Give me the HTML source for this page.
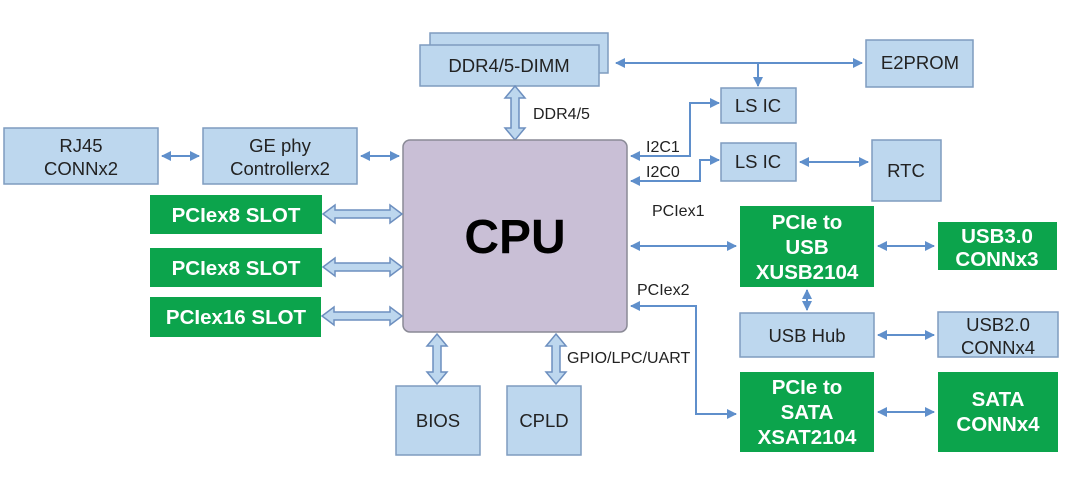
<!DOCTYPE html>
<html><head><meta charset="utf-8"><style>
html,body{margin:0;padding:0;background:#fff;}
svg{display:block;font-family:"Liberation Sans",Arial,sans-serif;}
.b{fill:#bdd7ee;stroke:#7f9cbf;stroke-width:1.5;}
.g{fill:#0ca44c;}
.t{font-size:18.5px;fill:#222;text-anchor:middle;}
.w{font-size:20.5px;fill:#fff;font-weight:bold;text-anchor:middle;}
.l{font-size:16px;fill:#222;}
.ln{stroke:#5f8fcb;stroke-width:2;fill:none;}
.ha{fill:#bdd7ee;stroke:#6d8fbf;stroke-width:1.5;}
</style></head><body>
<svg width="1080" height="489" viewBox="0 0 1080 489">
<defs>
<marker id="a" viewBox="0 0 10 10" refX="9" refY="5" markerWidth="5" markerHeight="5" orient="auto-start-reverse"><path d="M0,0L10,5L0,10z" fill="#5f8fcb"/></marker>
</defs>
<rect class="b" x="430" y="33" width="178" height="40"/>
<rect class="b" x="420" y="45" width="179" height="41"/>
<text class="t" x="509" y="72">DDR4/5-DIMM</text>
<rect class="b" x="866" y="40" width="107" height="47"/>
<text class="t" x="920" y="69">E2PROM</text>
<line class="ln" x1="616" y1="63" x2="862" y2="63" marker-start="url(#a)" marker-end="url(#a)"/>
<line class="ln" x1="758" y1="63" x2="758" y2="86" marker-end="url(#a)"/>
<rect class="b" x="721" y="88" width="75" height="35"/>
<text class="t" x="758" y="112">LS IC</text>
<rect class="b" x="721" y="143" width="75" height="38"/>
<text class="t" x="758" y="168">LS IC</text>
<rect class="b" x="872" y="140" width="69" height="61"/>
<text class="t" x="906" y="177">RTC</text>
<line class="ln" x1="800" y1="162" x2="868" y2="162" marker-start="url(#a)" marker-end="url(#a)"/>
<polyline class="ln" points="719,103 690,103 690,156 631,156" marker-start="url(#a)" marker-end="url(#a)"/>
<polyline class="ln" points="719,160 700,160 700,181 631,181" marker-start="url(#a)" marker-end="url(#a)"/>
<text class="l" x="646" y="152">I2C1</text>
<text class="l" x="646" y="177">I2C0</text>
<path class="ha" d="M515,86 L525,98 L519,98 L519,128 L525,128 L515,140 L505,128 L511,128 L511,98 L505,98 Z"/>
<text class="l" x="533" y="119">DDR4/5</text>
<rect x="403" y="140" width="224" height="192" rx="7" fill="#c9bfd6" stroke="#8a8a96" stroke-width="1.5"/>
<text x="515" y="253" font-size="48" font-weight="bold" text-anchor="middle" fill="#000">CPU</text>
<rect class="b" x="4" y="128" width="154" height="56"/>
<text class="t" x="81" y="152">RJ45</text><text class="t" x="81" y="175">CONNx2</text>
<rect class="b" x="203" y="128" width="154" height="56"/>
<text class="t" x="280" y="152">GE phy</text><text class="t" x="280" y="175">Controllerx2</text>
<line class="ln" x1="162" y1="156" x2="199" y2="156" marker-start="url(#a)" marker-end="url(#a)"/>
<line class="ln" x1="361" y1="156" x2="399" y2="156" marker-start="url(#a)" marker-end="url(#a)"/>
<rect class="g" x="150" y="195" width="172" height="39"/><text class="w" x="236" y="222">PCIex8 SLOT</text>
<rect class="g" x="150" y="248" width="172" height="39"/><text class="w" x="236" y="275">PCIex8 SLOT</text>
<rect class="g" x="150" y="297" width="171" height="40"/><text class="w" x="236" y="324">PCIex16 SLOT</text>
<path class="ha" d="M323,214 L335,205 L335,210 L390,210 L390,205 L402,214 L390,223 L390,218 L335,218 L335,223 Z"/>
<path class="ha" d="M323,267 L335,258 L335,263 L390,263 L390,258 L402,267 L390,276 L390,271 L335,271 L335,276 Z"/>
<path class="ha" d="M322,316 L334,307 L334,312 L390,312 L390,307 L402,316 L390,325 L390,320 L334,320 L334,325 Z"/>
<path class="ha" d="M437,334 L447,346 L441,346 L441,372 L447,372 L437,384 L427,372 L433,372 L433,346 L427,346 Z"/>
<path class="ha" d="M556,334 L566,346 L560,346 L560,372 L566,372 L556,384 L546,372 L552,372 L552,346 L546,346 Z"/>
<rect class="b" x="396" y="386" width="84" height="69"/><text class="t" x="438" y="427">BIOS</text>
<rect class="b" x="507" y="386" width="74" height="69"/><text class="t" x="544" y="427">CPLD</text>
<text class="l" x="567" y="363">GPIO/LPC/UART</text>
<text class="l" x="652" y="216">PCIex1</text>
<text class="l" x="637" y="295">PCIex2</text>
<line class="ln" x1="631" y1="246" x2="736" y2="246" marker-start="url(#a)" marker-end="url(#a)"/>
<polyline class="ln" points="631,306 696,306 696,414 736,414" marker-start="url(#a)" marker-end="url(#a)"/>
<rect class="g" x="740" y="206" width="134" height="81"/>
<text class="w" x="807" y="229">PCIe to</text><text class="w" x="807" y="254">USB</text><text class="w" x="807" y="279">XUSB2104</text>
<rect class="g" x="938" y="222" width="119" height="48"/>
<text class="w" x="997" y="243">USB3.0</text><text class="w" x="997" y="266">CONNx3</text>
<line class="ln" x1="878" y1="246" x2="934" y2="246" marker-start="url(#a)" marker-end="url(#a)"/>
<line class="ln" x1="807" y1="290" x2="807" y2="310" marker-start="url(#a)" marker-end="url(#a)"/>
<rect class="b" x="740" y="313" width="134" height="44"/><text class="t" x="807" y="342">USB Hub</text>
<rect class="b" x="938" y="312" width="120" height="45"/>
<text class="t" x="998" y="331">USB2.0</text><text class="t" x="998" y="354">CONNx4</text>
<line class="ln" x1="878" y1="335" x2="934" y2="335" marker-start="url(#a)" marker-end="url(#a)"/>
<rect class="g" x="740" y="372" width="134" height="80"/>
<text class="w" x="807" y="394">PCIe to</text><text class="w" x="807" y="419">SATA</text><text class="w" x="807" y="444">XSAT2104</text>
<rect class="g" x="938" y="372" width="120" height="80"/>
<text class="w" x="998" y="406">SATA</text><text class="w" x="998" y="431">CONNx4</text>
<line class="ln" x1="878" y1="412" x2="934" y2="412" marker-start="url(#a)" marker-end="url(#a)"/>
</svg>
</body></html>
